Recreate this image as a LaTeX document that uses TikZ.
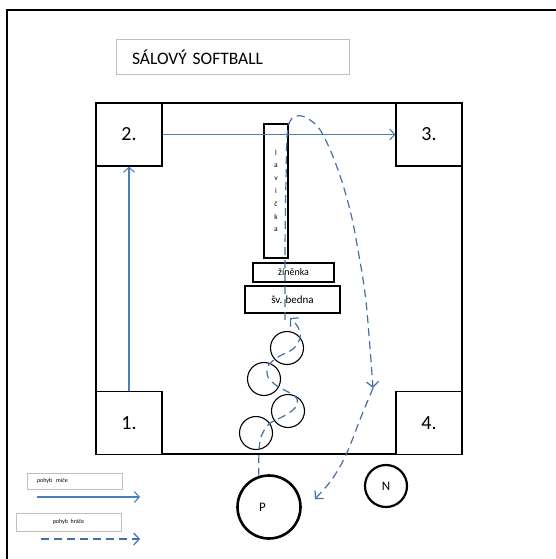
\documentclass[tikz,border=0pt]{standalone}
\usepackage{fontspec}
\setmainfont{Carlito}
\usetikzlibrary{arrows.meta}
\definecolor{moveblue}{HTML}{4A7EBB}
\definecolor{pathblue}{HTML}{4470A8}
\definecolor{boxgray}{HTML}{BFBFBF}
\tikzset{
  frame/.style={line width=1.3pt},
  cornerbox/.style={draw, fill=white, line width=1.2pt, minimum width=66pt, minimum height=63pt, inner sep=0pt, font=\fontsize{20}{22}\selectfont},
  gear/.style={draw, fill=white, line width=1.2pt, inner sep=0pt},
  cone/.style={draw, circle, line width=1.1pt, minimum size=33pt, inner sep=0pt},
  player/.style={draw, circle, inner sep=0pt, font=\fontsize{13}{14}\selectfont},
  labelbox/.style={draw=boxgray, line width=1pt, inner ysep=0pt},
  ballmove/.style={draw=moveblue, line width=1.1pt, -{Straight Barb[length=5pt,width=11pt,line width=1.1pt]}},
  playermove/.style={draw=pathblue, line width=1.2pt, dash pattern=on 8pt off 5pt, -{Straight Barb[length=5.5pt,width=12pt,line width=1.2pt]}}
}
\begin{document}
\begin{tikzpicture}[x=1pt,y=-1pt]
\useasboundingbox (0,0) rectangle (556,559);

% page frame (top and left edges)
\draw[frame] (7,559) -- (7,10) -- (556,10);

% title
\node[labelbox, minimum width=233pt, minimum height=35pt, text width=201pt, inner xsep=16pt, align=left,
      font=\fontsize{17.5}{19}\selectfont] (title) at (232.5,57.5) {SÁLOVÝ SOFTBALL};

% court
\draw[line width=1.3pt] (96,103) rectangle (462,454);

% bases
\node[cornerbox] (b1) at (129,423) {1.};
\node[cornerbox] (b2) at (129,134.5) {2.};
\node[cornerbox] (b3) at (429,134.5) {3.};
\node[cornerbox] (b4) at (429,423) {4.};

% equipment
\node[gear, minimum width=24pt, minimum height=134pt, align=center, font=\fontsize{7.5}{12.8}\selectfont]
  (bench) at (276,191) {l\\a\\v\\i\\č\\k\\a};
\node[gear, minimum width=81pt, minimum height=19pt, font=\fontsize{10}{11}\selectfont] (mat) at (293.5,272.5) {žíněnka};
\node[gear, minimum width=95pt, minimum height=27pt, font=\fontsize{11}{12}\selectfont] (box) at (292.5,299.5) {šv. bedna};

% slalom cones
\node[cone] (c1) at (287,348) {};
\node[cone] (c2) at (264,379) {};
\node[cone] (c3) at (288,411) {};
\node[cone] (c4) at (256,433) {};

% players
\node[player, line width=2.6pt, minimum size=63pt] (P) at (269,507) {\makebox[20pt][l]{P}};
\node[player, line width=2.2pt, minimum size=42pt] (N) at (386,486) {N};

% ball movement
\draw[ballmove] (b1.north) -- (b2.south);
\draw[ballmove] (b2.east) -- (b3.west);

% player movement
\coordinate (slalomEnd) at (290,318);
\coordinate (arcStart) at (285,320);
\coordinate (arcEnd) at (373,388);
\coordinate (runEnd) at (315,499);
\draw[playermove] plot[smooth, tension=0.55] coordinates {
  (P.108) (259,452) (261,437) (269,424) (284,416) (295,408) (297,399) (290,393)
  (277,386) (268,377) (268,366) (278,357) (293,349) (300,338) (298,327) (slalomEnd)};
\draw[playermove] plot[smooth, tension=0.6] coordinates {
  (arcStart) (285,250) (286,180) (288,128) (297,116) (310,120) (322,133) (337,167)
  (350,210) (358,250) (365,293) (369,335) (arcEnd)};
\draw[playermove] plot[smooth, tension=0.6] coordinates {
  (arcEnd) (361,417) (351,443) (342,463) (330,482) (runEnd)};

% legend
\node[labelbox, minimum width=95pt, minimum height=16pt, text width=75pt, inner xsep=10pt, align=left,
      font=\fontsize{6}{7}\selectfont] (legBall) at (74.5,481) {pohyb\ \ míče};
\node[labelbox, minimum width=105pt, minimum height=18pt, align=center,
      font=\fontsize{6}{7}\selectfont] (legPlayer) at (68.5,522) {pohyb\ \ hráče};
\coordinate (legBallA) at (37,497);
\coordinate (legBallB) at (140,497);
\coordinate (legPlayerA) at (41,539);
\coordinate (legPlayerB) at (140,539);
\draw[ballmove] (legBallA) -- (legBallB);
\draw[playermove] (legPlayerA) -- (legPlayerB);
\end{tikzpicture}
\end{document}
